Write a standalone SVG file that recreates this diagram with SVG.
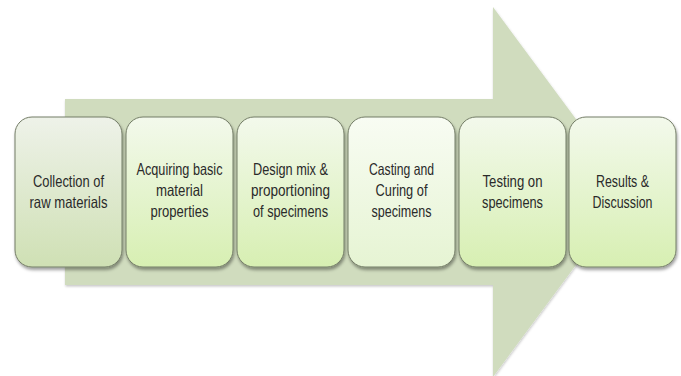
<svg xmlns="http://www.w3.org/2000/svg" width="681" height="376" viewBox="0 0 681 376">
  <defs>
    <filter id="shadow" x="-20%" y="-20%" width="140%" height="140%">
      <feDropShadow dx="1" dy="2.5" stdDeviation="1.6" flood-color="#000" flood-opacity="0.38"/>
    </filter>
    <filter id="softShadow" x="-10%" y="-10%" width="120%" height="120%">
      <feDropShadow dx="0.5" dy="1.5" stdDeviation="1.2" flood-color="#000" flood-opacity="0.22"/>
    </filter>
    <linearGradient id="gGrey" x1="0" y1="0" x2="0" y2="1">
      <stop offset="0" stop-color="#eef2e9"/>
      <stop offset="1" stop-color="#cfe0b4"/>
    </linearGradient>
    <linearGradient id="gGreen" x1="0" y1="0" x2="0" y2="1">
      <stop offset="0" stop-color="#f3f9ec"/>
      <stop offset="1" stop-color="#d7efb2"/>
    </linearGradient>
    <linearGradient id="gPale" x1="0" y1="0" x2="0" y2="1">
      <stop offset="0" stop-color="#f8fcf3"/>
      <stop offset="1" stop-color="#e6f4d3"/>
    </linearGradient>
  </defs>
  <style>
    .box { stroke: #737c66; stroke-width: 1; filter: url(#shadow); }
    .lbl { font-family: "Liberation Sans", Arial, sans-serif; font-size: 16.5px; fill: #2a2a2a; text-anchor: middle; }
  </style>

  <!-- large backdrop arrow -->
  <g id="flow-arrow">
    <polygon points="65,99 493,99 493,7 630,192 493,377 493,285 65,285" fill="#d0dcbe" filter="url(#softShadow)"/>
  </g>

  <g id="connectors"/>

  <g id="step1">
    <rect class="box" x="15" y="117" width="107" height="150" rx="17" fill="url(#gGrey)"/>
    <text class="lbl" x="68.5" y="187" textLength="71" lengthAdjust="spacingAndGlyphs">Collection of</text>
    <text class="lbl" x="68.5" y="208" textLength="78" lengthAdjust="spacingAndGlyphs">raw materials</text>
  </g>

  <g id="step2">
    <rect class="box" x="126" y="117" width="107" height="150" rx="17" fill="url(#gGreen)"/>
    <text class="lbl" x="179.5" y="175" textLength="86" lengthAdjust="spacingAndGlyphs">Acquiring basic</text>
    <text class="lbl" x="179.5" y="196" textLength="47" lengthAdjust="spacingAndGlyphs">material</text>
    <text class="lbl" x="179.5" y="217" textLength="58" lengthAdjust="spacingAndGlyphs">properties</text>
  </g>

  <g id="step3">
    <rect class="box" x="237" y="117" width="107" height="150" rx="17" fill="url(#gGreen)"/>
    <text class="lbl" x="290.5" y="175" textLength="75" lengthAdjust="spacingAndGlyphs">Design mix &amp;</text>
    <text class="lbl" x="290.5" y="196" textLength="79" lengthAdjust="spacingAndGlyphs">proportioning</text>
    <text class="lbl" x="290.5" y="217" textLength="75" lengthAdjust="spacingAndGlyphs">of specimens</text>
  </g>

  <g id="step4">
    <rect class="box" x="348" y="117" width="107" height="150" rx="17" fill="url(#gPale)"/>
    <text class="lbl" x="401.5" y="175" textLength="65" lengthAdjust="spacingAndGlyphs">Casting and</text>
    <text class="lbl" x="401.5" y="196" textLength="52" lengthAdjust="spacingAndGlyphs">Curing of</text>
    <text class="lbl" x="401.5" y="217" textLength="60" lengthAdjust="spacingAndGlyphs">specimens</text>
  </g>

  <g id="step5">
    <rect class="box" x="459" y="117" width="107" height="150" rx="17" fill="url(#gGreen)"/>
    <text class="lbl" x="512.5" y="187" textLength="60" lengthAdjust="spacingAndGlyphs">Testing on</text>
    <text class="lbl" x="512.5" y="208" textLength="61" lengthAdjust="spacingAndGlyphs">specimens</text>
  </g>

  <g id="step6">
    <rect class="box" x="569" y="117" width="107" height="150" rx="17" fill="url(#gGreen)"/>
    <text class="lbl" x="622.5" y="187" textLength="53" lengthAdjust="spacingAndGlyphs">Results &amp;</text>
    <text class="lbl" x="622.5" y="208" textLength="60" lengthAdjust="spacingAndGlyphs">Discussion</text>
  </g>
</svg>
